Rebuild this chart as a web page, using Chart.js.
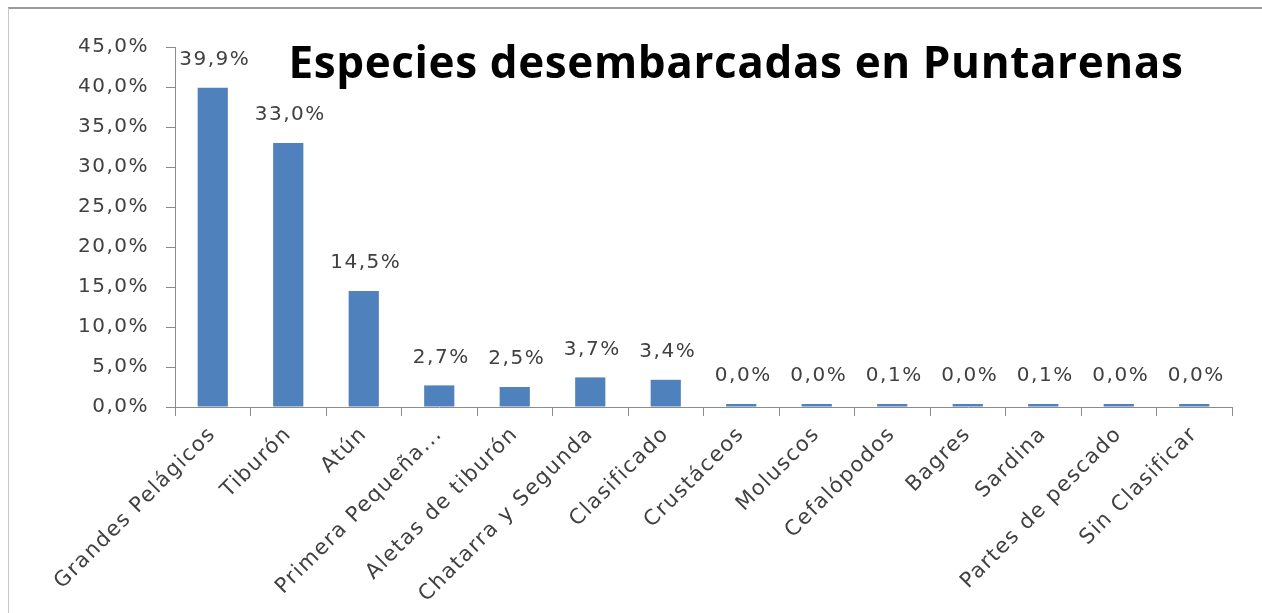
<!DOCTYPE html>
<html>
<head>
<meta charset="utf-8">
<script src="https://cdn.jsdelivr.net/npm/chart.js@4.4.1/dist/chart.umd.min.js"></script>
<style>
  html, body { margin: 0; padding: 0; background: #fff; }
  #wrap { position: relative; width: 1262px; height: 613px; }
  #frame { position: absolute; left: 8px; top: 7px; right: 0; bottom: 0;
           border-top: 2px solid #9a9a9a; border-left: 1px solid #c8c8c8; pointer-events: none; }
</style>
</head>
<body>
<div id="wrap">
  <canvas id="especiesChart" width="1262" height="613"></canvas>
  <div id="frame"></div>
</div>
<script>
const titulo = 'Especies desembarcadas en Puntarenas';
const categorias = ['Grandes Pelágicos', 'Tiburón', 'Atún', 'Primera Pequeña...', 'Aletas de tiburón',
  'Chatarra y Segunda', 'Clasificado', 'Crustáceos', 'Moluscos', 'Cefalópodos', 'Bagres',
  'Sardina', 'Partes de pescado', 'Sin Clasificar'];
const porcentajes = [39.9, 33.0, 14.5, 2.7, 2.5, 3.7, 3.4, 0.0, 0.0, 0.1, 0.0, 0.1, 0.0, 0.0];
const ticksY = [0, 5, 10, 15, 20, 25, 30, 35, 40, 45];

const fuente = '"DejaVu Sans", sans-serif';
const fmt = v => v.toFixed(1).replace('.', ',') + '%';

// el texto de excel sale mas ancho, se abre un poco el espaciado
const espaciado = {
  id: 'espaciado',
  beforeDraw(chart) {
    chart.ctx.letterSpacing = '1.5px';
  }
};

// etiquetas de datos encima de cada barra + titulo dentro del area
const etiquetas = {
  id: 'etiquetas',
  afterDatasetsDraw(chart) {
    const ctx = chart.ctx;
    const meta = chart.getDatasetMeta(0);
    ctx.save();
    ctx.font = '20px ' + fuente;
    ctx.fillStyle = '#404040';
    ctx.textAlign = 'center';
    ctx.textBaseline = 'middle';
    meta.data.forEach((bar, i) => {
      ctx.fillText(fmt(porcentajes[i]), bar.x + 2, bar.y - 28);
    });
    ctx.font = 'bold 44px "Open Sans", sans-serif';
    ctx.letterSpacing = '0px';
    const w = ctx.measureText(titulo).width;
    ctx.letterSpacing = ((895 - w) / titulo.length).toFixed(2) + 'px';
    ctx.fillStyle = '#000';
    ctx.textBaseline = 'alphabetic';
    ctx.fillText(titulo, 736, 78);
    ctx.restore();
  }
};

const ctx = document.getElementById('especiesChart').getContext('2d');
const especiesChart = new Chart(ctx, {
  type: 'bar',
  data: {
    labels: categorias,
    datasets: [{
      label: 'Especies',
      data: porcentajes,
      backgroundColor: '#4F81BD',
      borderWidth: 0,
      minBarLength: 3,
      barPercentage: 0.4,
      categoryPercentage: 1
    }]
  },
  options: {
    responsive: false,
    animation: false,
    layout: { padding: { left: 0, right: 30, top: 47, bottom: 0 } },
    plugins: {
      legend: { display: false },
      tooltip: { enabled: false }
    },
    scales: {
      y: {
        min: 0,
        max: 45,
        afterBuildTicks: s => { s.ticks = ticksY.map(v => ({ value: v })); },
        afterFit: s => { s.width = 175; },
        border: { color: '#8c8c8c', width: 1 },
        grid: { drawOnChartArea: false, drawTicks: true, tickLength: 9, color: '#8c8c8c' },
        ticks: {
          callback: v => fmt(v),
          color: '#404040',
          font: { family: fuente, size: 20 },
          padding: 17
        }
      },
      x: {
        afterFit: s => { s.height = 206; },
        border: { color: '#8c8c8c', width: 1 },
        grid: { drawOnChartArea: false, drawTicks: true, tickLength: 9, color: '#8c8c8c', offset: true },
        ticks: {
          color: '#404040',
          font: { family: fuente, size: 21 },
          maxRotation: 45,
          minRotation: 45,
          autoSkip: false,
          padding: 6
        }
      }
    }
  },
  plugins: [espaciado, etiquetas]
});
</script>
</body>
</html>
